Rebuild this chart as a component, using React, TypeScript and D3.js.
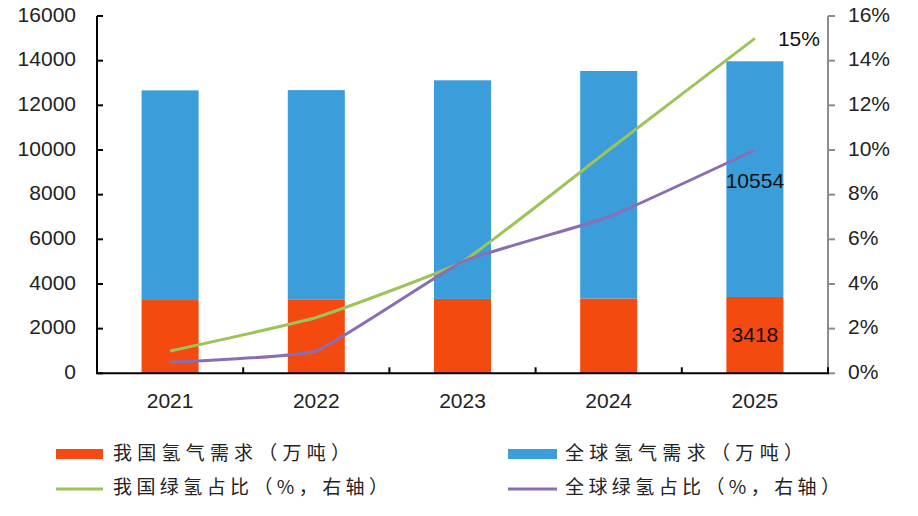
import React from "react";
import * as d3 from "d3";

const years = ["2021", "2022", "2023", "2024", "2025"];
const chinaDemand = [3280, 3290, 3330, 3350, 3418];
const globalRest = [9390, 9390, 9790, 10190, 10554];
const chinaGreenShare = [1, 2.5, 5, 10, 15];
const globalGreenShare = [0.5, 1, 5, 7, 10];
const leftTicks = [0, 2000, 4000, 6000, 8000, 10000, 12000, 14000, 16000];
const rightTicks = [0, 2, 4, 6, 8, 10, 12, 14, 16];

const W = 918;
const H = 516;
const X0 = 97;
const X1 = 828;
const Y0 = 373.3;
const Y1 = 16;

const C_ORANGE = "#F4490F";
const C_BLUE = "#3B9EDB";
const C_GREEN = "#9DC35A";
const C_PURPLE = "#8B6DB3";

const NUM_FONT = "'Liberation Sans', Arial, sans-serif";
const CJK_FONT = "'Noto Sans CJK SC', 'Noto Sans', sans-serif";

export default function App() {
  const x = d3.scaleBand<string>().domain(years).range([X0, X1]).paddingInner(0.61).paddingOuter(0.305);
  const y = d3.scaleLinear().domain([0, 16000]).range([Y0, Y1]);
  const yr = d3.scaleLinear().domain([0, 16]).range([Y0, Y1]);
  const cx = (yv: string) => (x(yv) as number) + x.bandwidth() / 2;
  const step = x.step();

  const line = d3
    .line<number>()
    .x((_, i) => cx(years[i]))
    .y((v) => yr(v))
    .curve(d3.curveCardinal.tension(0.65));

  const last = years.length - 1;

  return (
    <svg width={W} height={H} style={{ position: "absolute", left: 0, top: 0, background: "#fff" }}>
      {/* bars */}
      {years.map((yv, i) => {
        const bx = x(yv) as number;
        const bw = x.bandwidth();
        const c = chinaDemand[i];
        const g = globalRest[i];
        return (
          <g key={yv}>
            <rect x={bx} y={y(c)} width={bw} height={y(0) - y(c)} fill={C_ORANGE} />
            <rect x={bx} y={y(c + g)} width={bw} height={y(c) - y(c + g)} fill={C_BLUE} />
          </g>
        );
      })}

      {/* lines */}
      <path d={line(chinaGreenShare) || ""} fill="none" stroke={C_GREEN} strokeWidth={3} />
      <path d={line(globalGreenShare) || ""} fill="none" stroke={C_PURPLE} strokeWidth={3} />

      {/* data labels */}
      <text
        x={cx(years[last])}
        y={(y(chinaDemand[last] + globalRest[last]) + y(chinaDemand[last])) / 2 + 3}
        fontFamily={NUM_FONT}
        fontSize={21}
        textAnchor="middle"
        dominantBaseline="middle"
        fill="#111"
      >
        {globalRest[last]}
      </text>
      <text
        x={cx(years[last])}
        y={(y(chinaDemand[last]) + y(0)) / 2 + 1.5}
        fontFamily={NUM_FONT}
        fontSize={21}
        textAnchor="middle"
        dominantBaseline="middle"
        fill="#111"
      >
        {chinaDemand[last]}
      </text>
      <text
        x={cx(years[last]) + 23}
        y={yr(chinaGreenShare[last]) + 2}
        fontFamily={NUM_FONT}
        fontSize={21}
        textAnchor="start"
        dominantBaseline="middle"
        fill="#111"
      >
        {chinaGreenShare[last] + "%"}
      </text>

      {/* left axis */}
      <line x1={X0} x2={X0} y1={Y1} y2={Y0} stroke="#000" strokeWidth={2} />
      {leftTicks.map((t) => (
        <g key={"l" + t}>
          <line x1={X0} x2={X0 + 6} y1={y(t)} y2={y(t)} stroke="#000" strokeWidth={2} />
          <text
            x={76}
            y={y(t)}
            textAnchor="end"
            dominantBaseline="middle"
            fontFamily={NUM_FONT}
            fontSize={21}
            fill="#222"
          >
            {t}
          </text>
        </g>
      ))}

      {/* right axis */}
      <line x1={X1} x2={X1} y1={Y1} y2={Y0} stroke="#8c8c8c" strokeWidth={2} />
      {rightTicks.map((t) => (
        <g key={"r" + t}>
          <line x1={X1} x2={X1 + 7} y1={yr(t)} y2={yr(t)} stroke="#8c8c8c" strokeWidth={2} />
          <text
            x={848}
            y={yr(t)}
            textAnchor="start"
            dominantBaseline="middle"
            fontFamily={NUM_FONT}
            fontSize={21}
            fill="#222"
          >
            {t + "%"}
          </text>
        </g>
      ))}

      {/* bottom axis */}
      <line x1={X0 - 1} x2={X1 + 1} y1={Y0} y2={Y0} stroke="#000" strokeWidth={2} />
      {years.map((yv, i) => (
        <g key={"b" + yv}>
          <line
            x1={X0 + step * (i + 1)}
            x2={X0 + step * (i + 1)}
            y1={Y0}
            y2={Y0 - 6}
            stroke="#000"
            strokeWidth={2}
          />
          <text
            x={cx(yv)}
            y={402}
            textAnchor="middle"
            dominantBaseline="middle"
            fontFamily={NUM_FONT}
            fontSize={21}
            fill="#222"
          >
            {yv}
          </text>
        </g>
      ))}

      {/* legend */}
      <g>
        <rect x={56} y={449} width={47} height={10} fill={C_ORANGE} />
        <text x={113} y={455} dominantBaseline="middle" fontFamily={CJK_FONT} fontSize={19} fill="#222" textLength={237} lengthAdjust="spacing">
          我国氢气需求（万吨）
        </text>
        <rect x={508} y={449} width={49} height={10} fill={C_BLUE} />
        <text x={565} y={455} dominantBaseline="middle" fontFamily={CJK_FONT} fontSize={19} fill="#222" textLength={238} lengthAdjust="spacing">
          全球氢气需求（万吨）
        </text>
        <line x1={56} x2={103} y1={489} y2={489} stroke={C_GREEN} strokeWidth={3} />
        <text x={113} y={489} dominantBaseline="middle" fontFamily={CJK_FONT} fontSize={19} fill="#222" textLength={275} lengthAdjust="spacing">
          我国绿氢占比（%，右轴）
        </text>
        <line x1={508} x2={557} y1={489} y2={489} stroke={C_PURPLE} strokeWidth={3} />
        <text x={565} y={489} dominantBaseline="middle" fontFamily={CJK_FONT} fontSize={19} fill="#222" textLength={275} lengthAdjust="spacing">
          全球绿氢占比（%，右轴）
        </text>
      </g>
    </svg>
  );
}
